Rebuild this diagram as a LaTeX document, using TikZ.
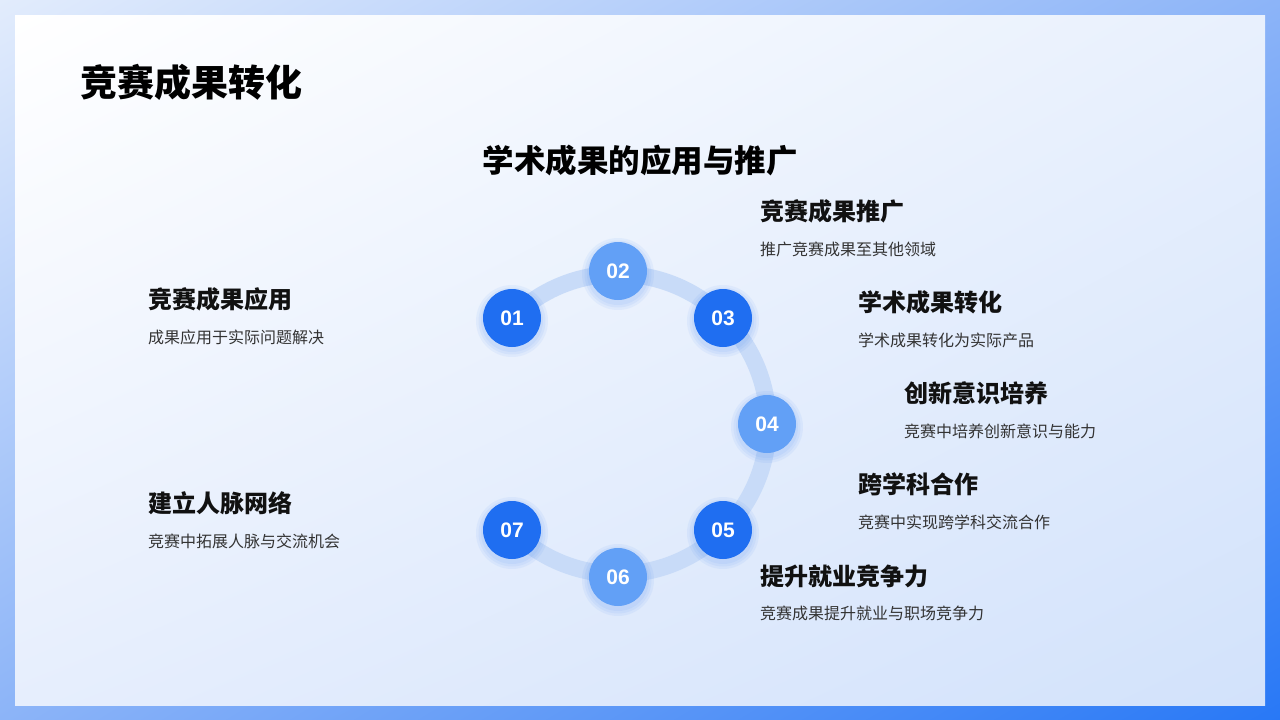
\documentclass[tikz,border=0pt]{standalone}
\usepackage{fontspec}
\setmainfont{Noto Sans CJK SC}
\newfontfamily\numfont{Liberation Sans}
\usetikzlibrary{calc,shadings}
\definecolor{darkc}{HTML}{1F6EF1}
\definecolor{lightc}{HTML}{62A0F6}
\definecolor{ringc}{HTML}{C8DBF8}
\definecolor{headc}{HTML}{111111}
\definecolor{descc}{HTML}{333333}
\definecolor{fUL}{RGB}{226,236,252}
\definecolor{fUR}{RGB}{140,180,248}
\definecolor{fLL}{RGB}{140,180,248}
\definecolor{fLR}{RGB}{40,120,246}
\definecolor{pUL}{RGB}{255,255,255}
\definecolor{pUR}{RGB}{232,240,253}
\definecolor{pLL}{RGB}{230,238,253}
\definecolor{pLR}{RGB}{210,226,251}
\tikzset{
  numdark/.style={circle, fill=darkc, minimum size=58pt, inner sep=0pt, text=white, font=\numfont\bfseries\fontsize{21}{24}\selectfont},
  numlight/.style={numdark, fill=lightc},
  glow/.style={circle, fill=darkc, opacity=0.06, minimum size=#1, inner sep=0pt},
  heading/.style={anchor=west, inner sep=0pt, text=headc, font=\bfseries\fontsize{24}{28}\selectfont},
  desc/.style={anchor=west, inner sep=0pt, text=descc, font=\fontsize{16}{19}\selectfont},
  ring/.style={draw=ringc, line width=17pt, line cap=round}
}
\begin{document}
\begin{tikzpicture}[x=1pt,y=-1pt]
\useasboundingbox (0,0) rectangle (1280,720);
% outer frame
\shade[upper left=fUL, upper right=fUR, lower left=fLL, lower right=fLR]
  (0,0) rectangle (1280,720);
% inner panel
\shade[upper left=pUL, upper right=pUR, lower left=pLL, lower right=pLR]
  (15,15) rectangle (1265,705);

% titles
\node[anchor=west, inner sep=0pt, text=black, font=\bfseries\fontsize{37}{42}\selectfont] (title) at (80,82) {竞赛成果转化};
\node[inner sep=0pt, text=black, font=\bfseries\fontsize{31.5}{36}\selectfont] (subtitle) at (640,160) {学术成果的应用与推广};

% ring
\coordinate (ctr) at (618,424);
\draw[ring] (512,318) arc[start angle=225, end angle=495, radius=150];

% glows
\foreach \p in {(512,321),(618,274),(723,321),(767,427),(723,533),(618,580),(512,533)}{
  \node[glow=72pt] at \p {};
  \node[glow=67pt] at \p {};
  \node[glow=62pt] at \p {};
}

% circles
\node[numdark]  (n1) at (512,318) {01};
\node[numlight] (n2) at (618,271) {02};
\node[numdark]  (n3) at (723,318) {03};
\node[numlight] (n4) at (767,424) {04};
\node[numdark]  (n5) at (723,530) {05};
\node[numlight] (n6) at (618,577) {06};
\node[numdark]  (n7) at (512,530) {07};

% left texts
\node[heading] (h1) at (148,299) {竞赛成果应用};
\node[desc]    (d1) at (148,337) {成果应用于实际问题解决};
\node[heading] (h7) at (148,503) {建立人脉网络};
\node[desc]    (d7) at (148,541) {竞赛中拓展人脉与交流机会};

% right texts
\node[heading] (h2) at (760,211) {竞赛成果推广};
\node[desc]    (d2) at (760,249) {推广竞赛成果至其他领域};
\node[heading] (h3) at (858,302) {学术成果转化};
\node[desc]    (d3) at (858,340) {学术成果转化为实际产品};
\node[heading] (h4) at (904,393) {创新意识培养};
\node[desc]    (d4) at (904,431) {竞赛中培养创新意识与能力};
\node[heading] (h5) at (858,484) {跨学科合作};
\node[desc]    (d5) at (858,522) {竞赛中实现跨学科交流合作};
\node[heading] (h6) at (760,576) {提升就业竞争力};
\node[desc]    (d6) at (760,613) {竞赛成果提升就业与职场竞争力};
\end{tikzpicture}
\end{document}
